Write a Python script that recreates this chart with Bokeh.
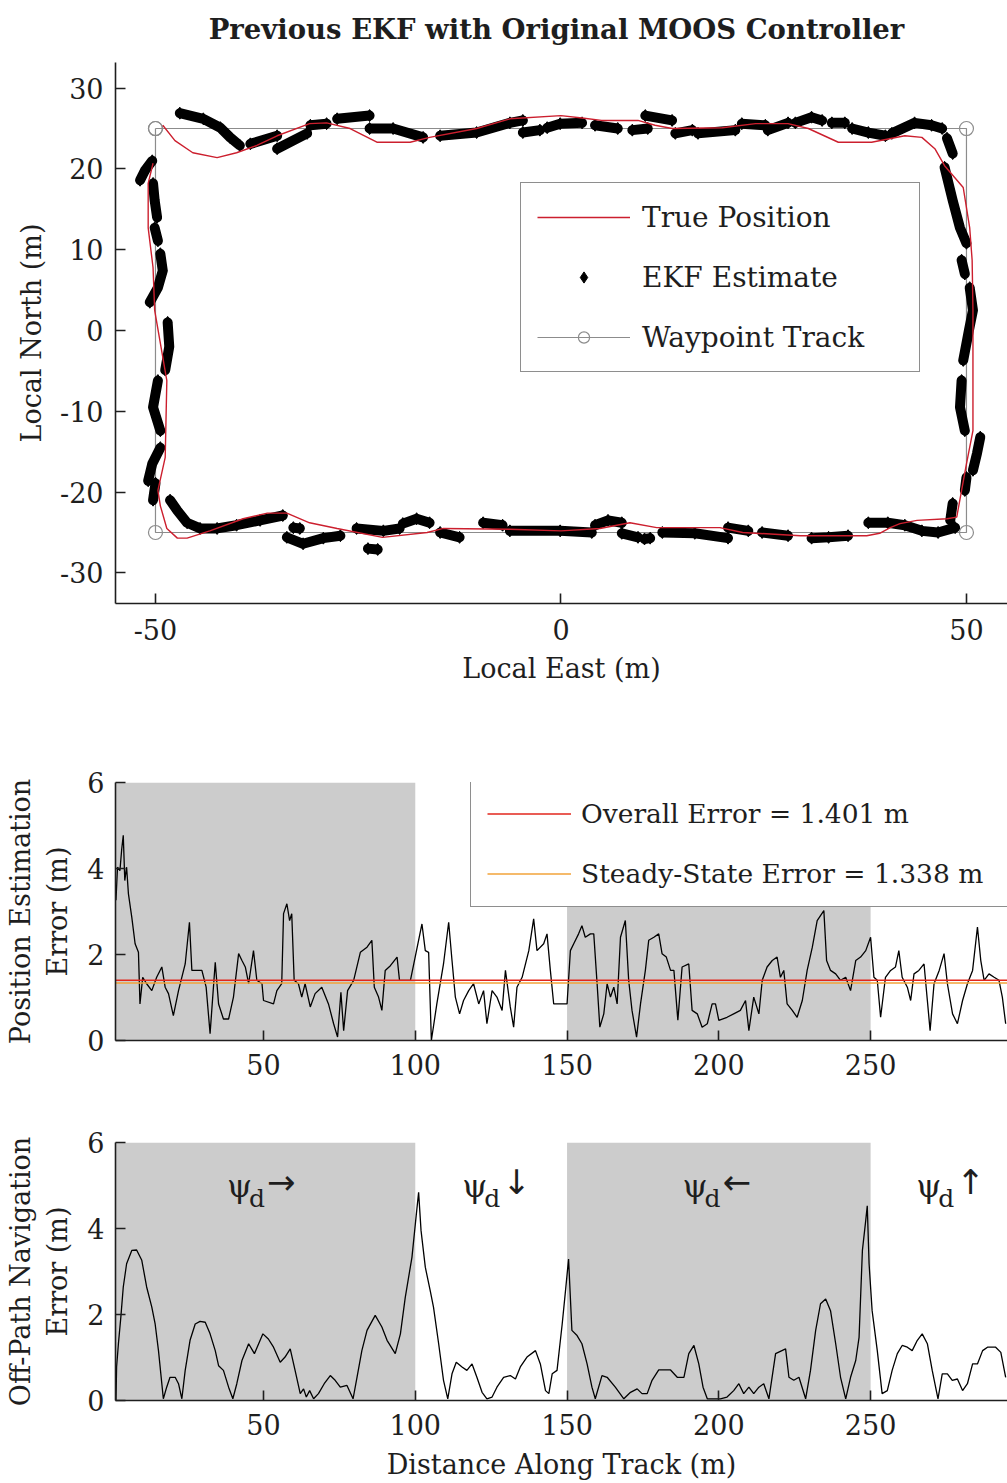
from bokeh.plotting import figure
from bokeh.models import Range1d, FixedTicker, Legend, LegendItem, ColumnDataSource, Label
from bokeh.layouts import column
from bokeh.core.properties import value
from bokeh.embed import file_html
from bokeh.resources import INLINE

# ---------------- data: top panel (local frame, metres) ----------------
waypoint_east = [-50, 50, 50, -50, -50]
waypoint_north = [25, 25, -25, -25, 25]

true_east = [-49.1, -47.6, -45.4, -42.4, -40.0, -37.5, -35.0, -31.0, -28.9, -26.0, -22.7, -18.6,
             -16.2, -10.4, -6.3, 0.0, 2.6, 5.0, 9.5, 11.6, 13.7, 19.9, 24.0, 28.0, 30.5, 34.2,
             38.3, 42.4, 44.5, 46.1, 47.3, 49.6, 50.4, 50.7, 50.8, 50.8, 50.8, 50.0, 49.4, 48.8,
             47.6, 43.9, 41.8, 40.6, 39.3, 37.7, 29.5, 22.4, 19.6, 11.8, 8.5, 4.8, 0.0, -6.3,
             -14.5, -16.5, -22.0, -27.6, -31.0, -33.8, -36.2, -39.2, -43.3, -46.1, -47.3, -48.6,
             -49.4, -49.7, -48.8, -48.6, -50.1, -50.3, -50.9, -50.9, -50.3]
true_north = [25.4, 23.5, 22.0, 21.4, 22.0, 22.9, 24.1, 25.6, 25.7, 25.0, 23.3, 23.3,
              23.9, 25.0, 26.2, 26.6, 26.3, 26.0, 26.0, 25.4, 25.0, 25.1, 25.6, 25.6, 25.0, 23.3,
              23.3, 24.1, 23.9, 22.5, 20.4, 17.7, 12.7, 8.7, 2.5, -6.2, -12.4, -16.5, -19.8, -23.1,
              -23.3, -23.5, -23.9, -24.4, -25.1, -25.4, -25.4, -25.0, -24.4, -24.4, -23.8, -24.5, -24.8, -24.6,
              -24.5, -25.0, -25.6, -24.5, -23.8, -22.6, -22.6, -23.3, -24.8, -25.7, -25.7, -24.5,
              -21.7, -19.8, -15.7, -6.2, 2.5, 7.8, 12.7, 18.2, 20.7]

# EKF estimate: runs of consecutive estimates (east, north)
ekf_east = [
    [-47.0, -44.1, -42.0, -40.8, -39.6], [-38.3, -35.0], [-35.0, -31.3], [-30.9, -28.9],
    [-27.6, -23.6], [-23.6, -20.7, -17.0], [-14.9, -10.4, -6.3, -4.7], [-4.7, -2.6],
    [-1.7, -0.1, 2.6], [4.2, 7.0], [8.8, 10.7], [10.4, 13.7], [14.1, 16.2], [16.9, 21.5],
    [22.3, 25.2], [25.5, 28.0], [28.9, 30.9, 32.2], [33.4, 35.0], [35.9, 37.9, 40.0],
    [40.8, 43.6, 45.7, 47.0], [47.6, 48.3],
    [47.3, 48.3, 49.2, 50.0], [49.4, 49.8], [50.4, 50.8, 50.3, 49.6], [49.4, 49.2, 49.8],
    [51.7, 51.3, 50.8], [50.0, 49.8], [48.3, 48.0],
    [48.6, 46.5, 44.5, 42.4, 40.3, 37.9], [35.4, 33.0, 30.9], [28.0, 24.8], [23.1, 20.6],
    [20.6, 16.5, 12.5], [10.3, 11.0], [7.5, 9.5], [4.2, 5.8, 7.5], [-6.3, -0.1, 3.8],
    [-9.6, -7.2], [-14.9, -12.5], [-19.5, -17.8, -16.2], [-25.2, -21.9, -19.9], [-23.8, -22.6],
    [-33.8, -31.8, -29.3, -27.2], [-33.0, -32.2],
    [-34.3, -37.1, -40.0, -42.4, -44.5, -46.1, -47.3, -48.2],
    [-50.0, -50.3], [-49.4, -50.4, -50.9], [-49.7, -50.3, -49.4], [-48.5, -48.3, -48.8],
    [-49.4, -49.1, -49.7, -50.7], [-50.1, -49.7], [-50.3, -50.1, -49.8], [-50.4, -51.3, -51.9],
]
ekf_north = [
    [26.9, 26.2, 25.1, 23.9, 22.9], [23.1, 24.1], [22.5, 24.4], [25.4, 25.6],
    [26.2, 26.6], [25.0, 25.0, 23.9], [24.1, 24.5, 25.7, 26.0], [24.5, 24.8],
    [25.1, 25.6, 25.7], [25.4, 25.0], [24.8, 25.0], [26.6, 26.0], [24.4, 24.8], [24.4, 24.8],
    [25.6, 25.4], [24.8, 25.7], [25.7, 26.4, 26.0], [25.7, 25.7], [25.0, 24.5, 24.1],
    [24.4, 25.7, 25.4, 25.0], [23.8, 21.9],
    [20.2, 16.1, 12.7, 10.8], [8.7, 7.0], [5.3, 2.5, 0.0, -3.7], [-6.2, -9.5, -12.4],
    [-13.2, -15.2, -17.3], [-18.2, -19.8], [-21.4, -23.5],
    [-24.4, -25.0, -24.8, -24.1, -23.8, -23.8], [-25.4, -25.6, -25.7], [-25.4, -25.0], [-24.8, -24.4],
    [-25.7, -25.1, -25.0], [-25.8, -25.7], [-25.1, -25.6], [-24.1, -23.5, -23.8], [-24.8, -24.8, -25.0],
    [-23.8, -24.1], [-25.0, -25.6], [-23.9, -23.3, -23.8], [-24.5, -24.8, -24.5], [-27.0, -27.1],
    [-25.6, -26.4, -25.7, -25.4], [-24.4, -24.5],
    [-22.9, -23.5, -24.1, -24.5, -24.5, -23.8, -22.3, -21.0],
    [-18.9, -21.0], [-14.5, -16.5, -18.6], [-6.2, -9.5, -12.4], [1.0, -2.0, -4.9],
    [9.5, 7.4, 5.3, 3.5], [12.7, 11.1], [18.2, 16.1, 14.0], [21.0, 19.8, 18.6],
]

top_xticks = [-50, 0, 50]
top_yticks = [-30, -20, -10, 0, 10, 20, 30]
title_text = "Previous EKF with Original MOOS Controller"

# ---------------- data: error panels (distance along track, metres) ----------------
track_length = 300
leg_start = [0, 150]
leg_end = [100, 250]
leg_bottom = [0, 0]
leg_top = [6, 6]

overall_error = 1.401
steady_state_error = 1.338

pos_dist = [1.4, 1.9, 2.7, 3.3, 3.8, 4.3, 4.9, 5.5, 6.6, 7.7, 8.8, 9.3, 10.2, 11.5, 13.2, 14.8, 16.5,
            17.6, 18.7, 20.3, 22.0, 24.2, 25.6, 26.4, 28.0, 29.7, 31.1, 32.4, 34.1, 35.2, 36.8, 38.5,
            40.1, 41.8, 42.9, 44.0, 45.1, 46.7, 47.8, 49.5, 50.0, 53.3, 54.4, 56.0, 56.6, 57.7, 58.6,
            59.3, 60.1, 61.5, 62.6, 63.7, 65.4, 67.0, 69.2, 71.4, 73.1, 74.4, 75.5, 76.4, 77.7, 79.7,
            81.9, 84.1, 85.7, 86.5, 87.9, 89.0, 90.1, 91.8, 94.0, 94.8, 98.4, 102.2, 103.3, 104.4,
            105.3, 107.1, 109.3, 111.0, 112.1, 113.2, 114.6, 115.9, 117.6, 119.2, 120.9, 122.5, 123.6,
            125.3, 126.9, 128.6, 129.7, 131.3, 132.4, 133.5, 135.2, 137.4, 139.0, 140.1, 142.3, 143.4,
            144.5, 145.6, 150.0, 151.1, 152.2, 153.8, 154.9, 156.0, 157.7, 158.8, 159.9, 160.8, 162.1,
            163.2, 164.3, 165.4, 166.5, 167.6, 169.2, 170.3, 171.4, 172.9, 174.2, 175.8, 176.9, 178.6,
            180.2, 181.3, 182.7, 184.1, 185.2, 186.5, 187.9, 190.1, 191.2, 192.9, 194.5, 196.2, 197.8,
            198.9, 200.0, 202.7, 204.9, 207.1, 208.8, 209.9, 211.5, 213.2, 214.3, 215.9, 217.6, 219.2,
            220.3, 221.4, 222.5, 224.2, 225.8, 227.5, 229.1, 230.8, 232.4, 234.6, 235.5, 236.8, 238.5,
            240.1, 241.8, 243.4, 245.1, 246.7, 248.4, 250.0, 251.1, 252.2, 253.3, 254.9, 256.6, 258.2,
            259.3, 260.4, 262.1, 263.2, 264.3, 265.9, 267.6, 268.7, 269.6, 270.9, 272.6, 274.2, 275.3,
            277.0, 278.6, 280.3, 281.9, 283.6, 285.2, 286.3, 287.4, 289.0, 290.7, 292.3, 293.4, 294.5]
pos_err = [3.26, 4.03, 3.95, 4.46, 4.77, 3.72, 4.03, 3.41, 2.87, 2.25, 2.05, 0.85, 1.47, 1.32, 1.16, 1.47,
           1.71, 1.24, 1.09, 0.58, 1.16, 1.78, 2.75, 1.63, 1.63, 1.63, 1.24, 0.16, 1.82, 0.85, 0.50, 0.50,
           1.01, 2.02, 1.86, 1.71, 1.32, 2.09, 1.40, 1.32, 0.93, 0.85, 1.16, 1.32, 2.95, 3.18, 2.79,
           2.95, 1.40, 1.32, 1.01, 1.32, 0.78, 1.09, 1.24, 0.85, 0.39, 0.08, 1.12, 0.23, 1.16, 1.40,
           2.05, 2.17, 2.33, 1.24, 1.01, 0.70, 1.63, 1.74, 1.94, 1.40, 1.40, 2.71, 2.09, 2.05,
           0.00, 0.85, 1.78, 2.75, 1.86, 1.01, 0.62, 0.93, 1.16, 1.32, 0.85, 1.16, 0.39,
           1.16, 1.01, 0.70, 1.63, 0.78, 0.31, 1.24, 1.47, 2.09, 2.83, 2.09, 2.25, 2.48,
           1.63, 0.85, 0.85, 2.09, 2.25, 2.48, 2.67, 2.40, 2.48, 2.48, 1.32, 0.31, 0.62,
           1.32, 1.01, 1.24, 0.85, 2.40, 2.79, 1.40, 0.70, 0.08, 0.85, 1.63, 2.33, 2.40,
           2.48, 2.02, 1.94, 1.63, 1.63, 0.47, 1.71, 1.78, 0.70, 0.62, 0.31, 0.39, 0.85,
           0.85, 0.47, 0.54, 0.62, 0.70, 0.93, 0.23, 1.01, 0.62, 1.40, 1.71, 1.86, 1.94,
           1.47, 1.63, 0.85, 0.70, 0.54, 0.93, 1.63, 2.17, 2.79, 3.02, 1.86, 1.63, 1.55,
           1.40, 1.47, 1.16, 1.86, 1.94, 2.09, 2.40, 1.47, 1.40, 0.54, 1.47, 1.63, 1.71,
           2.09, 1.47, 1.24, 0.93, 1.55, 1.63, 1.78, 0.93, 0.23, 1.32, 1.63, 2.02, 1.32,
           0.62, 0.39, 0.93, 1.32, 1.63, 2.64, 1.86, 1.40, 1.55, 1.47, 1.40, 1.01, 0.39]

nav_dist = [1.4, 1.6, 2.2, 3.0, 3.8, 4.9, 6.6, 8.2, 9.9, 11.5, 13.2, 14.3, 15.4, 17.0, 18.1, 19.2, 20.9,
            22.0, 23.1, 24.2, 25.8, 27.5, 29.1, 30.8, 32.4, 34.1, 35.2, 36.8, 38.5, 39.9, 41.2, 42.9,
            45.1, 47.0, 48.4, 49.8, 51.6, 53.3, 55.5, 57.1, 58.8, 60.4, 62.1, 63.2, 64.1, 65.2, 66.5,
            68.1, 70.0, 72.0, 73.6, 75.3, 77.5, 79.5, 80.8, 82.4, 84.1, 86.8, 89.0, 90.7, 93.4, 95.1,
            96.7, 98.9, 100.3, 101.1, 101.9, 103.3, 104.9, 106.0, 107.7, 109.3, 110.7, 112.1, 113.5,
            115.4, 117.0, 118.7, 120.3, 122.0, 123.6, 125.3, 126.9, 129.1, 131.3, 133.0, 134.6, 136.8,
            139.6, 141.2, 142.9, 144.0, 145.1, 146.7, 148.4, 149.5, 150.5, 151.6, 153.3, 154.9, 156.6,
            158.2, 159.3, 161.5, 163.2, 165.9, 168.7, 170.9, 173.1, 174.7, 176.4, 178.0, 180.2, 184.1,
            186.3, 188.5, 190.1, 191.8, 193.4, 194.8, 196.2, 200.5, 202.7, 204.9, 206.6, 208.2, 209.9,
            211.5, 213.2, 214.8, 216.5, 218.7, 222.0, 223.1, 224.7, 226.4, 228.6, 230.2, 231.9, 233.5,
            235.2, 236.8, 238.5, 240.1, 241.8, 243.4, 245.1, 246.2, 247.3, 248.4, 248.9, 249.5, 250.5,
            252.2, 253.8, 255.5, 257.1, 258.8, 260.4, 262.1, 263.7, 265.4, 267.0, 268.7, 270.3, 272.2,
            273.6, 275.3, 276.9, 278.6, 280.3, 281.9, 283.6, 285.2, 286.9, 288.5, 291.2, 292.9, 294.5]
nav_err = [0.00, 0.78, 1.32, 1.94, 2.64, 3.18, 3.49, 3.50, 3.26, 2.64, 2.17, 1.78, 1.16, 0.04, 0.31, 0.54,
           0.54, 0.39, 0.04, 0.70, 1.40, 1.78, 1.84, 1.82, 1.55, 1.16, 0.81, 0.70, 0.31, 0.04, 0.39, 0.93,
           1.32, 1.09, 1.32, 1.55, 1.43, 1.24, 0.89, 1.01, 1.20, 0.70, 0.16, 0.27, 0.08, 0.23, 0.04,
           0.16, 0.39, 0.58, 0.47, 0.31, 0.35, 0.04, 0.54, 1.16, 1.63, 1.98, 1.71, 1.40, 1.09, 1.55,
           2.40, 3.33, 4.30, 4.84, 3.95, 3.10, 2.56, 2.17, 1.32, 0.47, 0.04, 0.62, 0.89,
           0.78, 0.70, 0.85, 0.54, 0.19, 0.04, 0.08, 0.31, 0.54, 0.58, 0.50, 0.78, 1.01,
           1.16, 0.85, 0.23, 0.16, 0.62, 0.70, 1.78, 2.56, 3.29, 1.63, 1.51, 1.32, 0.85,
           0.31, 0.04, 0.58, 0.54, 0.31, 0.04, 0.19, 0.27, 0.16, 0.16, 0.47, 0.71, 0.71,
           0.54, 0.54, 1.09, 1.28, 0.85, 0.31, 0.04, 0.04, 0.08, 0.23, 0.39, 0.16, 0.31,
           0.16, 0.31, 0.39, 0.04, 1.09, 1.20, 0.54, 0.47, 0.54, 0.04, 0.70, 1.63, 2.25,
           2.36, 2.09, 1.32, 0.54, 0.04, 0.54, 0.93, 1.47, 3.49, 4.19, 4.53, 3.18, 2.09,
           1.16, 0.16, 0.23, 0.70, 1.09, 1.28, 1.24, 1.16, 1.40, 1.55, 1.32, 0.70, 0.04,
           0.62, 0.62, 0.47, 0.50, 0.23, 0.39, 0.85, 0.85, 1.16, 1.24, 1.24, 1.12, 0.54]

err_xticks = [50, 100, 150, 200, 250]
err_yticks = [0, 2, 4, 6]

heading_x = [38.0, 115.5, 188.0, 265.0]
heading_y = [5.0, 5.0, 5.0, 5.0]
heading_arrow = ["\u2192", "\u2193", "\u2190", "\u2191"]

# ---------------- styling helpers ----------------
FONT = "DejaVu Serif"
INK = "#1e1e1e"


def style_axes(p, xticks, yticks):
    p.outline_line_color = None
    p.xgrid.visible = False
    p.ygrid.visible = False
    p.background_fill_color = "white"
    p.border_fill_color = "white"
    for ax in (p.xaxis[0], p.yaxis[0]):
        ax.axis_line_width = 1.6
        ax.axis_line_color = INK
        ax.major_tick_in = 10
        ax.major_tick_out = 0
        ax.major_tick_line_width = 1.6
        ax.major_tick_line_color = INK
        ax.minor_tick_line_color = None
        ax.major_label_text_font = FONT
        ax.major_label_text_font_size = "27px"
        ax.major_label_text_color = INK
        ax.axis_label_text_font = FONT
        ax.axis_label_text_font_size = "27px"
        ax.axis_label_text_font_style = "normal"
        ax.axis_label_text_color = INK
    p.xaxis[0].ticker = FixedTicker(ticks=xticks)
    p.yaxis[0].ticker = FixedTicker(ticks=yticks)
    p.xaxis[0].major_label_overrides = {t: str(t) for t in xticks}
    p.yaxis[0].major_label_overrides = {t: str(t) for t in yticks}


W = 1007
LEFT = 115

# ---------------- title strip ----------------
# (the column aligns this strip's frame with the panels below, so the frame starts at LEFT)
p0 = figure(width=W, height=62, output_backend="svg", toolbar_location=None,
            x_range=Range1d(0, 1), y_range=Range1d(0, 1), x_axis_type=None, y_axis_type=None,
            min_border_left=0, min_border_right=0, min_border_top=0, min_border_bottom=0)
p0.outline_line_color = None
p0.background_fill_color = "white"
p0.border_fill_color = "white"
p0.add_layout(Label(x=441, y=34, x_units="screen", y_units="screen", text=title_text,
                    text_align="center", text_baseline="middle", text_font=FONT,
                    text_font_size="27.5px", text_font_style="bold", text_color=INK))

# ---------------- top panel ----------------
p1 = figure(width=W, height=638, output_backend="svg", toolbar_location=None,
            x_range=Range1d(-54.93, 55.06), y_range=Range1d(-33.79, 33.17),
            min_border_left=LEFT, min_border_right=0, min_border_top=0, min_border_bottom=97)
style_axes(p1, top_xticks, top_yticks)
p1.xaxis.axis_label = "Local East (m)"
p1.yaxis.axis_label = "Local North (m)"
p1.xaxis.major_label_standoff = 15
p1.xaxis.axis_label_standoff = 10
p1.yaxis.major_label_standoff = 12
p1.yaxis.axis_label_standoff = 10

GRAY = "#8c8c8c"
RED_TRUE = "#cc1f2e"
ekf_pts_east = [e for run in ekf_east for e in run]
ekf_pts_north = [n for run in ekf_north for n in run]

r_wp_line = p1.line(waypoint_east, waypoint_north, line_color=GRAY, line_width=1.2)
r_wp_pts = p1.scatter(waypoint_east, waypoint_north, marker="circle", size=14,
                      fill_color=None, line_color=GRAY, line_width=1.2)
p1.multi_line(xs=ekf_east, ys=ekf_north, line_color="black", line_width=10,
              line_cap="round", line_join="round")
r_ekf = p1.scatter(ekf_pts_east, ekf_pts_north, marker="diamond", size=12,
                   fill_color="black", line_color="black")
r_true = p1.line(true_east, true_north, line_color=RED_TRUE, line_width=1.4)

leg1 = Legend(items=[LegendItem(label="True Position", renderers=[r_true]),
                     LegendItem(label="EKF Estimate", renderers=[r_ekf]),
                     LegendItem(label="Waypoint Track", renderers=[r_wp_line, r_wp_pts])],
              location=(405, 231), glyph_width=93, glyph_height=28, label_height=36,
              label_width=261, spacing=24, padding=16, label_standoff=12, margin=0,
              border_line_color=INK, border_line_width=1.5, background_fill_alpha=1.0,
              label_text_font=FONT, label_text_font_size="28px", label_text_color=INK)
p1.add_layout(leg1)

# ---------------- middle panel ----------------
p2 = figure(width=W, height=400, output_backend="svg", toolbar_location=None,
            x_range=Range1d(1.24, 295.1), y_range=Range1d(0, 6),
            min_border_left=LEFT, min_border_right=0, min_border_top=82, min_border_bottom=60)
style_axes(p2, err_xticks, err_yticks)
p2.yaxis.axis_label = "Position Estimation\nError (m)"
p2.xaxis.major_label_standoff = 13
p2.yaxis.major_label_standoff = 11
p2.yaxis.axis_label_standoff = 11

SHADE = "#cccccc"
p2.quad(left=leg_start, right=leg_end, bottom=leg_bottom, top=leg_top,
        fill_color=SHADE, line_color=None)
p2.line(pos_dist, pos_err, line_color="black", line_width=1.3)
r_over = p2.line([0, track_length], [overall_error, overall_error], line_color="#e2261c", line_width=1.6)
r_ss = p2.line([0, track_length], [steady_state_error, steady_state_error], line_color="#f2a33a",
               line_width=1.6)

leg2 = Legend(items=[LegendItem(label="Overall Error = %.3f m" % overall_error, renderers=[r_over]),
                     LegendItem(label="Steady-State Error = %.3f m" % steady_state_error, renderers=[r_ss])],
              location=(355, 133), glyph_width=84, glyph_height=33, label_height=33,
              label_width=411, spacing=27, padding=16, label_standoff=10, margin=0,
              border_line_color=INK, border_line_width=1.5, background_fill_alpha=1.0,
              label_text_font=FONT, label_text_font_size="26.5px", label_text_color=INK)
p2.add_layout(leg2)

# ---------------- bottom panel ----------------
p3 = figure(width=W, height=382, output_backend="svg", toolbar_location=None,
            x_range=Range1d(1.24, 295.1), y_range=Range1d(0, 6),
            min_border_left=LEFT, min_border_right=0, min_border_top=42, min_border_bottom=82)
style_axes(p3, err_xticks, err_yticks)
p3.yaxis.axis_label = "Off-Path Navigation\nError (m)"
p3.xaxis.axis_label = "Distance Along Track (m)"
p3.xaxis.major_label_standoff = 13
p3.xaxis.axis_label_standoff = 11
p3.yaxis.major_label_standoff = 11
p3.yaxis.axis_label_standoff = 11

p3.quad(left=leg_start, right=leg_end, bottom=leg_bottom, top=leg_top,
        fill_color=SHADE, line_color=None)
p3.line(nav_dist, nav_err, line_color="black", line_width=1.3)

hsrc = ColumnDataSource(dict(x=heading_x, y=heading_y, arrow=heading_arrow,
                             psi=["\u03c8"] * len(heading_x), sub=["d"] * len(heading_x)))
p3.text(x="x", y="y", text="psi", source=hsrc, text_font=value(FONT), text_font_size="32px",
        text_align="left", text_baseline="middle", text_color=INK)
p3.text(x="x", y="y", text="sub", source=hsrc, text_font=value(FONT), text_font_size="25px",
        text_align="left", text_baseline="middle", text_color=INK, x_offset=22, y_offset=13)
p3.text(x="x", y="y", text="arrow", source=hsrc, text_font=value("DejaVu Sans"), text_font_size="34px",
        text_align="left", text_baseline="middle", text_color=INK, x_offset=40, y_offset=-4)

layout = column(p0, p1, p2, p3, spacing=0)

open("out.html", "w").write(file_html(layout, INLINE))
